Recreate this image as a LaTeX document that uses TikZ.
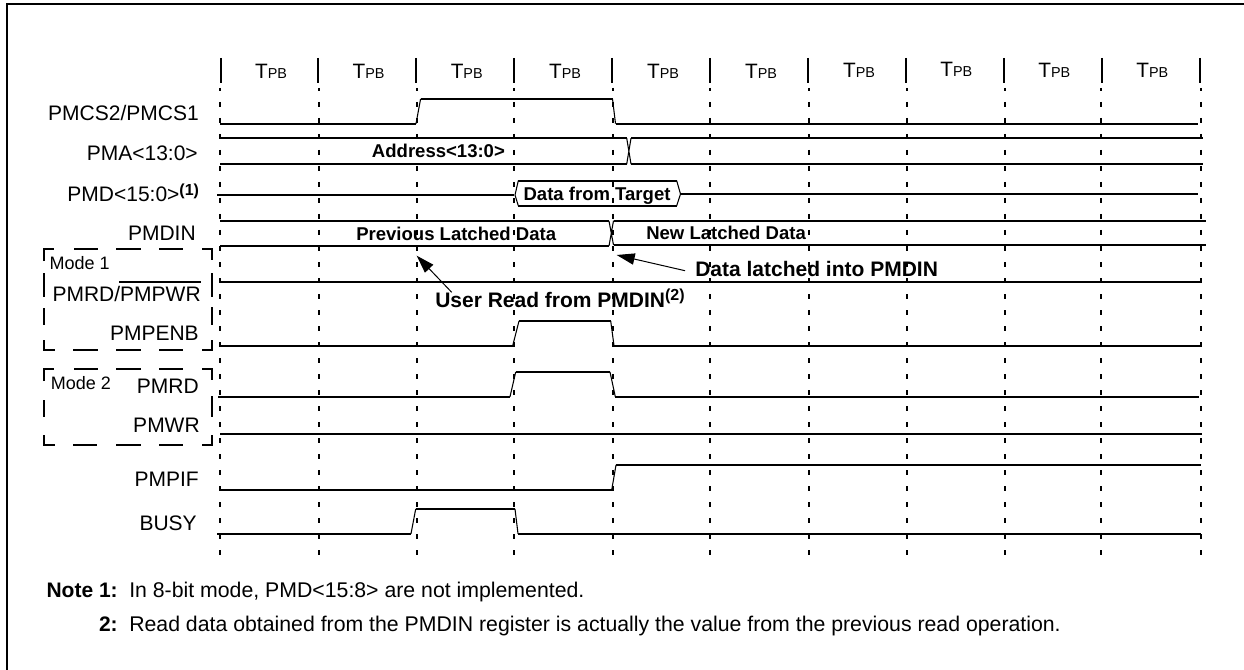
\documentclass[tikz,border=0pt]{standalone}
\usepackage{fontspec}
\setmainfont{Liberation Sans}
\usetikzlibrary{arrows.meta}
\newcommand{\lblfont}{\fontsize{15.75}{18}\selectfont}
\newcommand{\notefont}{\fontsize{15.95}{18}\selectfont}
\newcommand{\modefont}{\fontsize{13.5}{16}\selectfont}
\newcommand{\datafont}{\fontsize{13.9}{16}\selectfont\bfseries}
\newcommand{\callfont}{\fontsize{15.75}{18}\selectfont\bfseries}
\newcommand{\tpb}{{\fontsize{15.6}{18}\selectfont T}{\fontsize{10.8}{12}\selectfont PB}}
\newcommand{\supr}[1]{\raisebox{5pt}{\fontsize{12}{14}\selectfont\bfseries #1}}
\tikzset{
 sig/.style={line width=1.4pt,line cap=butt,line join=miter},
 edgeline/.style={line width=0.8pt},
 tick/.style={line width=1.5pt},
 gridline/.style={line width=1.5pt,dash pattern=on 4.1pt off 7.9pt,dash phase=1.5pt},
 modebox/.style={line width=1.5pt},
 frameline/.style={line width=1.5pt},
 lab/.style={anchor=base east,inner sep=0pt,font=\lblfont},
 leftlab/.style={anchor=base west,inner sep=0pt,font=\notefont},
 modelab/.style={anchor=base west,inner sep=0pt,font=\modefont},
 datalab/.style={anchor=base west,inner sep=0pt,font=\datafont},
 calllab/.style={anchor=base west,inner sep=0pt,font=\callfont},
 tlab/.style={anchor=base,inner sep=0pt},
 callout/.style={line width=0.75pt,-{Triangle[length=13.5pt,width=8.5pt]}},
}
\begin{document}
\begin{tikzpicture}[x=0.75pt,y=-0.75pt]
\useasboundingbox (0,0) rectangle (1244,670);
% frame
\draw[frameline] (6.7,670) -- (6.7,3.9) -- (1244,3.9);
% solid ticks at top
\foreach \x in {220.5,318,416,514,612,710,808,906,1004,1102,1200}
  \draw[tick] (\x,58) -- (\x,83);
% dashed grid
\foreach \x/\e in {220/560,319/556,417/556,514/556,613/555,710/555,809/555,907/555,1005/555,1101/555,1201/555}
  \draw[gridline] (\x,88) -- (\x,\e);
% T labels
\node[tlab] (t1) at (271,79) {\tpb};
\node[tlab] (t2) at (368.5,79) {\tpb};
\node[tlab] (t3) at (466.7,79) {\tpb};
\node[tlab] (t4) at (565,79) {\tpb};
\node[tlab] (t5) at (663,79) {\tpb};
\node[tlab] (t6) at (761,79) {\tpb};
\node[tlab] (t7) at (859,78) {\tpb};
\node[tlab] (t8) at (956.3,76.7) {\tpb};
\node[tlab] (t9) at (1054.3,78) {\tpb};
\node[tlab] (t10) at (1152.3,78) {\tpb};
% signal labels
\node[lab] (l1) at (199,120.7) {PMCS2/PMCS1};
\node[lab] (l2) at (198,160.7) {PMA<13:0>};
\node[lab] (l3) at (199.3,201.7) {PMD<15:0>\supr{(1)}};
\node[lab] (l4) at (196,240.7) {PMDIN};
\node[modelab] (m1) at (49.3,269) {Mode 1};
\node[lab] (l5) at (201,301.7) {PMRD/PMPWR};
\node[lab] (l6) at (199,340) {PMPENB};
\node[modelab] (m2) at (50.7,389.3) {Mode 2};
\node[lab] (l7) at (199,393.3) {PMRD};
\node[lab] (l8) at (200,432.7) {PMWR};
\node[lab] (l9) at (199,486.7) {PMPIF};
\node[lab] (l10) at (197,530.7) {BUSY};
\draw[line width=1pt] (119,282) -- (201,282);
% mode boxes
\draw[modebox] (44,261) -- (44,249) -- (54,249) (74,249) -- (98,249) (116,249) -- (141,249) (159,249) -- (183,249) (202,249) -- (212,249) -- (212,260);
\draw[modebox] (44,273) -- (44,297) (44,308) -- (44,325) (212,273) -- (212,297) (212,307) -- (212,325);
\draw[modebox] (44,340) -- (44,350) -- (55,350) (73,350) -- (98,350) (116,350) -- (141,350) (159,350) -- (183,350) (202,350) -- (212,350) -- (212,340);
\draw[modebox] (44,381) -- (44,369) -- (54,369) (74,369) -- (98,369) (116,369) -- (141,369) (159,369) -- (183,369) (202,369) -- (212,369) -- (212,380);
\draw[modebox] (44,400) -- (44,417) (212,396) -- (212,417);
\draw[modebox] (44,435) -- (44,445) -- (55,445) (73,445) -- (97,445) (116,445) -- (141,445) (159,445) -- (183,445) (202,445) -- (212,445) -- (212,435);
% PMCS
\draw[sig] (220,123.7) -- (416,123.7) (420.6,98.9) -- (612.5,98.9) (615.5,123.7) -- (1198,123.7);
\draw[edgeline] (416,123.7) -- (420.6,98.9) (612.5,98.9) -- (615.5,123.7);
% PMA
\draw[sig] (220,138.2) -- (626.7,138.2) (631,138.2) -- (1202.7,138.2) (220,164) -- (626.7,164) (631,164) -- (1202.7,164);
\draw[edgeline] (626.7,138.2) -- (631,164) (626.7,164) -- (631,138.2);
\node[datalab] (a1) at (371.7,157.7) {Address<13:0>};
% PMD
\draw[sig] (217,195) -- (513.5,195) (680.5,194) -- (1198,194) (518.3,180.7) -- (676.7,180.7) (518.3,205.7) -- (676.7,205.7);
\draw[edgeline] (518.3,180.7) -- (515,195) -- (518.3,205.7) (676.7,180.7) -- (680.5,194) -- (676.7,205.7);
\node[datalab] (a2) at (523.3,200.7) {Data from Target};
% PMDIN
\draw[sig] (220,221) -- (609,221) (613.5,220.7) -- (1206,220.7) (220,245.9) -- (609,245.9) (613.5,244.9) -- (1206,244.9);
\draw[edgeline] (609,221) -- (613.5,245) (609,245.9) -- (613.5,220.7);
\node[datalab] (a3) at (356,240) {Previous Latched Data};
\node[datalab] (a4) at (646,239) {New Latched Data};
% PMRD/PMPWR
\draw[sig] (221,281.8) -- (1200,281.8);
% PMPENB
\draw[sig] (221,345.7) -- (512.7,345.7) (519,321) -- (610.7,321) (614,345.7) -- (1200.5,345.7);
\draw[edgeline] (512.7,345.7) -- (519,321) (610.7,321) -- (614,345.7);
% PMRD
\draw[sig] (218,396.7) -- (510,396.7) (515.7,372) -- (610,372) (615.3,396.7) -- (1199,396.7);
\draw[edgeline] (510,396.7) -- (515.7,372) (610,372) -- (615.3,396.7);
% PMWR
\draw[sig] (220,434) -- (1201.7,434);
% PMPIF
\draw[sig] (221,490) -- (611.7,490) (616,465) -- (1201,465);
\draw[edgeline] (611.7,490) -- (616,465);
% BUSY
\draw[sig] (217,533.7) -- (411,533.7) (415.7,509) -- (515,509) (518,533.7) -- (1201,533.7);
\draw[edgeline] (411,533.7) -- (415.7,509) (515,509) -- (518,533.7);
% callouts
\node[calllab] (c1) at (695,276.7) {Data latched into PMDIN};
\node[calllab] (c2) at (435,307.3) {User Read from PMDIN\supr{(2)}};
\coordinate (c1tail) at (685,270.7);
\coordinate (c1tip) at (616.7,255);
\coordinate (c2tail) at (451.7,292.3);
\coordinate (c2tip) at (416.7,255.7);
\draw[callout] (c1tail) -- (c1tip);
\draw[callout] (c2tail) -- (c2tip);
% notes
\node[anchor=base east,inner sep=0pt,font=\callfont] (n1) at (118,597.7) {Note 1:};
\node[leftlab] (n1t) at (129,597.7) {In 8-bit mode, PMD<15:8> are not implemented.};
\node[anchor=base east,inner sep=0pt,font=\callfont] (n2) at (118,631.7) {2:};
\node[leftlab] (n2t) at (129,631.7) {Read data obtained from the PMDIN register is actually the value from the previous read operation.};
\end{tikzpicture}
\end{document}
